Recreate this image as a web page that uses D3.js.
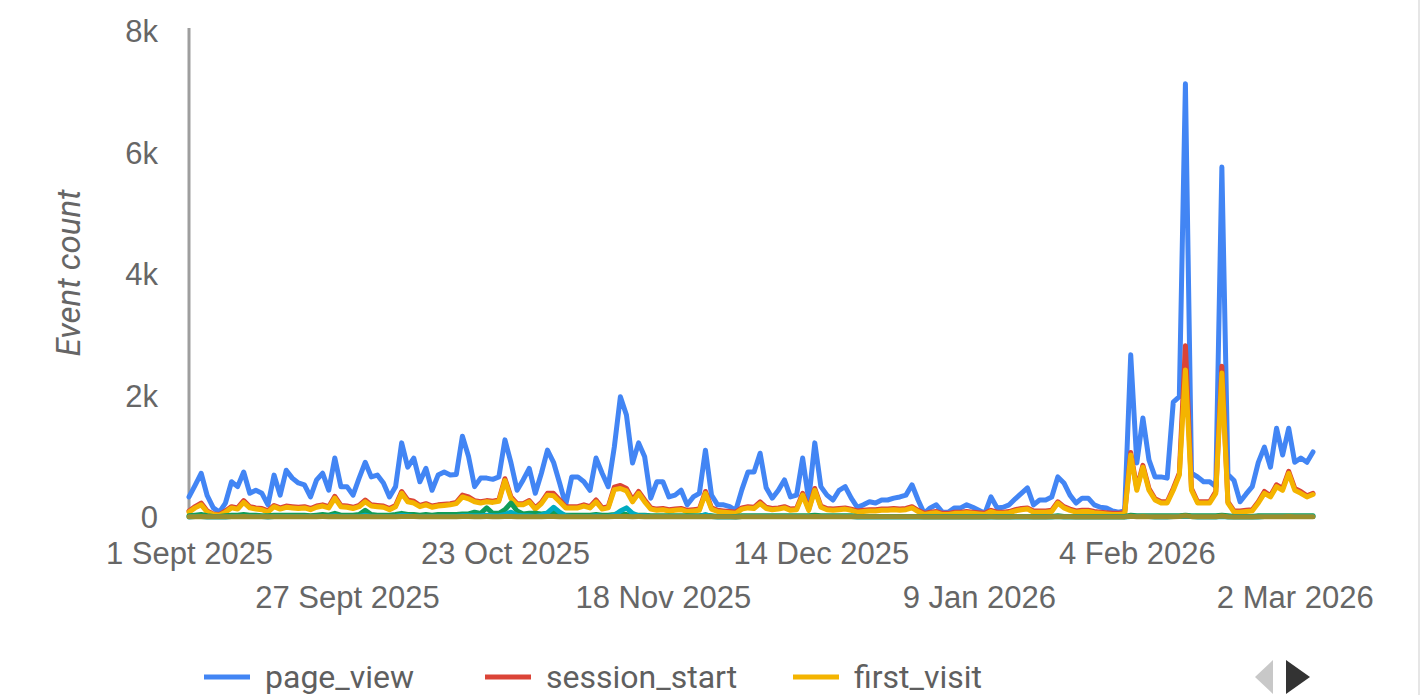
<!DOCTYPE html>
<html>
<head>
<meta charset="utf-8">
<script src="https://cdn.jsdelivr.net/npm/d3@7"></script>
<style>
    body { margin: 0; background: #fff; }
    svg { display: block; font-family: Roboto, "Noto Sans", sans-serif; }
</style>
</head>
<body>
<div id="chart-container"></div>
<script>
// Daily event counts, 1 Sept 2025 .. 5 Mar 2026
const startDate = new Date(2025, 8, 1)
const endDate = new Date(2026, 2, 5)

const pageView = [
    330, 520, 720, 350, 150, 80, 230, 580, 500, 740, 390, 440, 390, 200, 690, 360, 770, 640, 560, 530,
    330, 610, 720, 440, 970, 500, 500, 360, 640, 900, 660, 690, 560, 330, 500, 1220, 820, 970, 580, 800,
    440, 690, 740, 690, 700, 1330, 1000, 500, 640, 640, 620, 660, 1270, 890, 440, 610, 800, 390, 720, 1100,
    900, 560, 200, 660, 660, 580, 440, 970, 720, 500, 1150, 1980, 1680, 890, 1220, 990, 310, 580, 580, 330,
    360, 440, 200, 330, 390, 1100, 360, 200, 200, 170, 110, 450, 740, 740, 1050, 480, 310, 440, 610, 330,
    360, 970, 280, 1220, 500, 360, 280, 440, 500, 310, 160, 200, 250, 230, 280, 280, 310, 330, 360, 530,
    280, 60, 150, 200, 80, 80, 150, 150, 200, 160, 110, 60, 330, 150, 160, 200, 300, 390, 480, 200,
    280, 280, 330, 660, 560, 360, 230, 310, 310, 200, 160, 150, 100, 80, 100, 2670, 890, 1630, 940, 660,
    660, 640, 1890, 1980, 7130, 720, 660, 580, 580, 500, 5760, 700, 600, 250, 380, 500, 900, 1150, 820, 1460,
    1020, 1460, 900, 970, 900, 1070
]

const sessionStart = [
    100, 170, 230, 100, 50, 40, 100, 170, 150, 270, 170, 150, 140, 100, 190, 150, 180, 170, 160, 170,
    140, 180, 200, 170, 340, 190, 180, 160, 190, 280, 200, 190, 180, 140, 190, 420, 280, 260, 190, 220,
    180, 200, 210, 220, 240, 360, 330, 270, 250, 270, 260, 280, 630, 330, 220, 220, 270, 150, 240, 390,
    390, 280, 170, 170, 170, 200, 170, 280, 150, 170, 490, 520, 470, 280, 420, 280, 150, 130, 140, 120,
    130, 140, 110, 120, 130, 420, 150, 110, 100, 90, 80, 150, 170, 160, 250, 160, 140, 150, 170, 130,
    140, 390, 130, 470, 180, 140, 130, 140, 150, 130, 100, 110, 120, 120, 130, 130, 140, 130, 140, 170,
    110, 60, 80, 90, 60, 60, 80, 80, 90, 80, 70, 60, 110, 80, 80, 90, 120, 140, 150, 100,
    100, 100, 110, 250, 170, 130, 100, 110, 110, 90, 80, 70, 60, 60, 70, 1060, 470, 850, 470, 300,
    250, 250, 470, 720, 2820, 470, 250, 250, 250, 420, 2480, 250, 100, 100, 110, 120, 250, 420, 350, 530,
    470, 750, 470, 420, 350, 390
]

const firstVisit = [
    80, 150, 200, 80, 40, 30, 80, 150, 130, 240, 150, 130, 120, 80, 170, 130, 160, 150, 140, 150,
    120, 160, 180, 150, 310, 170, 160, 140, 170, 250, 180, 170, 160, 120, 170, 390, 250, 230, 170, 200,
    160, 180, 190, 200, 220, 330, 300, 250, 230, 250, 240, 260, 600, 300, 200, 200, 250, 130, 220, 360,
    350, 250, 150, 150, 150, 180, 150, 250, 130, 150, 450, 470, 430, 250, 390, 250, 130, 110, 120, 100,
    110, 120, 90, 100, 110, 390, 130, 90, 80, 70, 60, 130, 150, 140, 220, 140, 120, 130, 150, 110,
    120, 360, 110, 440, 160, 120, 110, 120, 130, 110, 80, 90, 100, 100, 110, 110, 120, 110, 120, 150,
    90, 40, 60, 70, 40, 40, 60, 60, 70, 60, 50, 40, 90, 60, 60, 70, 100, 120, 130, 80,
    80, 80, 90, 230, 150, 110, 80, 90, 90, 70, 60, 50, 40, 40, 50, 1020, 440, 820, 440, 280,
    230, 230, 440, 690, 2420, 440, 230, 230, 230, 390, 2370, 230, 80, 80, 90, 100, 230, 390, 330, 500,
    440, 720, 440, 390, 330, 370
]

const userEngagement = [
    20, 30, 40, 20, 10, 10, 20, 30, 30, 40, 30, 30, 20, 20, 30, 30, 30, 30, 30, 30,
    20, 30, 40, 30, 60, 30, 30, 30, 40, 110, 40, 30, 30, 30, 40, 60, 40, 40, 30, 40,
    30, 40, 40, 40, 40, 50, 50, 80, 60, 150, 60, 60, 120, 230, 100, 50, 60, 60, 50, 60,
    90, 40, 30, 30, 30, 30, 30, 40, 30, 30, 40, 60, 40, 30, 30, 30, 20, 20, 20, 20,
    20, 20, 20, 20, 20, 30, 20, 10, 10, 10, 10, 20, 20, 20, 20, 20, 20, 20, 20, 20,
    20, 20, 20, 30, 20, 20, 20, 20, 20, 20, 10, 10, 10, 10, 10, 10, 10, 10, 10, 10,
    10, 10, 10, 10, 10, 10, 10, 10, 10, 10, 10, 10, 10, 10, 10, 10, 10, 10, 10, 10,
    10, 10, 10, 20, 10, 10, 10, 10, 10, 10, 10, 10, 10, 10, 10, 30, 20, 20, 20, 20,
    20, 20, 20, 20, 30, 20, 20, 20, 20, 20, 30, 20, 10, 10, 10, 10, 20, 20, 20, 20,
    20, 20, 20, 20, 20, 20
]

const scroll = [
    0, 10, 10, 0, 0, 0, 0, 10, 10, 10, 10, 10, 10, 0, 10, 10, 10, 10, 10, 10,
    10, 10, 10, 10, 20, 10, 10, 10, 10, 30, 10, 10, 10, 10, 10, 30, 20, 10, 10, 10,
    10, 10, 10, 10, 10, 20, 20, 20, 20, 30, 20, 20, 40, 80, 30, 20, 20, 10, 30, 70,
    160, 80, 20, 10, 10, 10, 10, 20, 10, 10, 30, 100, 150, 60, 20, 20, 10, 10, 10, 10,
    10, 10, 10, 10, 10, 40, 10, 0, 0, 0, 0, 10, 10, 10, 10, 10, 10, 10, 10, 10,
    10, 10, 10, 10, 10, 10, 10, 10, 10, 10, 0, 0, 0, 0, 0, 0, 0, 0, 0, 0,
    0, 0, 0, 0, 0, 0, 0, 0, 0, 0, 0, 0, 0, 0, 0, 0, 0, 0, 0, 0,
    0, 0, 0, 10, 0, 0, 0, 0, 0, 0, 0, 0, 0, 0, 0, 10, 10, 10, 10, 0,
    0, 0, 10, 10, 10, 10, 0, 0, 0, 0, 10, 0, 0, 0, 0, 0, 0, 10, 10, 10,
    10, 10, 10, 10, 10, 10
]

const formStart = [
    5, 5, 8, 5, 3, 3, 5, 6, 6, 8, 6, 6, 5, 4, 6, 6, 6, 6, 6, 6,
    5, 6, 7, 6, 8, 6, 6, 5, 6, 8, 6, 6, 6, 5, 6, 9, 7, 7, 6, 6,
    6, 6, 6, 6, 6, 8, 7, 6, 6, 7, 6, 6, 9, 8, 6, 6, 6, 5, 6, 8,
    8, 6, 5, 5, 5, 5, 5, 6, 5, 5, 7, 9, 8, 6, 7, 6, 4, 4, 4, 4,
    4, 4, 3, 4, 4, 7, 4, 3, 3, 3, 2, 4, 4, 4, 5, 4, 4, 4, 4, 4,
    4, 6, 4, 7, 4, 4, 4, 4, 4, 4, 3, 3, 3, 3, 3, 3, 3, 3, 3, 4,
    3, 2, 2, 2, 2, 2, 2, 2, 2, 2, 2, 2, 3, 2, 2, 2, 3, 3, 3, 2,
    2, 2, 3, 4, 3, 3, 2, 2, 2, 2, 2, 2, 2, 2, 2, 12, 6, 9, 6, 4,
    4, 4, 6, 8, 20, 6, 4, 4, 4, 5, 18, 4, 2, 2, 2, 2, 4, 5, 5, 6,
    6, 8, 6, 5, 5, 5
]

const seriesNames = ['page_view', 'session_start', 'first_visit', 'user_engagement', 'scroll', 'form_start']
const seriesColors = ['#4285f4', '#db4437', '#f4b400', '#0f9d58', '#00acc1', '#9a8f2c']
const legendCount = 3

const xTickDates = ['2025-09-01', '2025-09-27', '2025-10-23', '2025-11-18', '2025-12-14', '2026-01-09', '2026-02-04', '2026-03-02']
const xTickLabels = ['1 Sept 2025', '27 Sept 2025', '23 Oct 2025', '18 Nov 2025', '14 Dec 2025', '9 Jan 2026', '4 Feb 2026', '2 Mar 2026']
const yTicks = [0, 2000, 4000, 6000, 8000]
const yTickLabels = ['0', '2k', '4k', '6k', '8k']

class TimeLinePlotter {
    constructor(options) {
        this.width = options.width
        this.height = options.height
        this.left = options.left
        this.right = options.right
        this.top = options.top
        this.bottom = options.bottom

        // legend entry starts (layout only)
        this.legendSlots = [204, 485, 793]

        this.dates = d3.timeDay.range(startDate, d3.timeDay.offset(endDate, 1))
        this.series = [pageView, sessionStart, firstVisit, userEngagement, scroll, formStart]
        this.parseDay = d3.timeParse('%Y-%m-%d')

        this.x = d3.scaleTime()
            .domain([startDate, endDate])
            .range([this.left, this.right])
        this.y = d3.scaleLinear()
            .domain([0, 8000])
            .range([this.bottom, this.top])

        this.svg = d3.select('#chart-container')
            .append('svg')
            .attr('width', this.width)
            .attr('height', this.height)
    }

    plot() {
        this.#drawYAxis()
        this.#drawLines()
        this.#drawXAxis()
        this.#drawLegend()
        this.#drawFrame()
    }

    #drawYAxis() {
        const yAxis = d3.axisLeft(this.y)
            .tickValues(yTicks)
            .tickFormat((d, i) => yTickLabels[i])
            .tickSize(0)
            .tickSizeOuter(0)
            .tickPadding(31)
        const g = this.svg.append('g')
            .attr('transform', 'translate(' + this.left + ',0)')
            .call(yAxis)
        g.select('.domain')
            .attr('stroke', '#9e9e9e')
            .attr('stroke-width', 3)
            .attr('d', 'M0,' + (this.top - 3) + 'V' + this.bottom)
        g.selectAll('text')
            .attr('fill', '#666')
            .style('font-size', '31px')
            .attr('dy', '0.35em')

        this.svg.append('text')
            .attr('transform', 'translate(68,' + 273 + ') rotate(-90)')
            .attr('text-anchor', 'middle')
            .attr('dominant-baseline', 'central')
            .attr('fill', '#666')
            .style('font-size', '33px')
            .style('font-style', 'italic')
            .text('Event count')
    }

    #drawLines() {
        const line = d3.line()
            .x((d, i) => this.x(this.dates[i]))
            .y(d => this.y(d))
        this.svg.append('g')
            .selectAll('path')
            .data(this.series)
            .enter()
            .append('path')
            .attr('d', d => line(d))
            .attr('fill', 'none')
            .attr('stroke', (d, i) => seriesColors[i])
            .attr('stroke-width', 5)
            .attr('stroke-linejoin', 'round')
            .attr('stroke-linecap', 'round')
    }

    #drawXAxis() {
        const xAxis = d3.axisBottom(this.x)
            .tickValues(xTickDates.map(s => this.parseDay(s)))
            .tickFormat((d, i) => xTickLabels[i])
            .tickSize(0)
            .tickSizeOuter(0)
        const g = this.svg.append('g')
            .attr('transform', 'translate(0,' + this.bottom + ')')
            .call(xAxis)
        g.select('.domain').remove()
        g.selectAll('text')
            .attr('fill', '#666')
            .style('font-size', '31px')
            .attr('dy', null)
            .attr('dominant-baseline', 'central')
            .attr('y', (d, i) => i % 2 === 0 ? 36 : 80)
    }

    #drawLegend() {
        const legend = this.svg.append('g')
            .attr('transform', 'translate(0,677)')
        for (let i = 0; i < legendCount; i++) {
            const item = legend.append('g').attr('transform', 'translate(' + this.legendSlots[i] + ',0)')
            item.append('line')
                .attr('x1', 0).attr('x2', 46)
                .attr('stroke', seriesColors[i])
                .attr('stroke-width', 5)
            item.append('text')
                .attr('x', 61)
                .attr('dominant-baseline', 'central')
                .attr('fill', '#5f5f5f')
                .style('font-size', '32px')
                .text(seriesNames[i])
        }

        // page arrows
        this.svg.append('path')
            .attr('d', 'M1273,660L1255,677L1273,694Z')
            .attr('fill', '#c8c8c8')
        this.svg.append('path')
            .attr('d', 'M1286,660L1310,677L1286,694Z')
            .attr('fill', '#333')
    }

    #drawFrame() {
        this.svg.append('line')
            .attr('x1', 1419).attr('x2', 1419)
            .attr('y1', 0).attr('y2', this.height)
            .attr('stroke', '#e6e6e6')
            .attr('stroke-width', 2)
    }
}

new TimeLinePlotter({ width: 1424, height: 695, left: 189, right: 1313, top: 31, bottom: 517 }).plot()
</script>
</body>
</html>
